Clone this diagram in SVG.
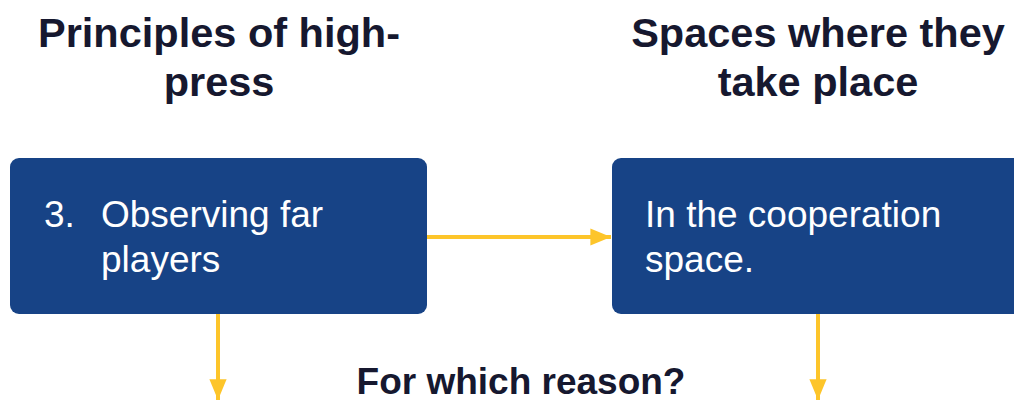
<svg xmlns="http://www.w3.org/2000/svg" width="1014" height="400" viewBox="0 0 1014 400">
<style>
.title{font-family:"Liberation Sans",Arial,sans-serif;font-weight:bold;font-size:41.5px;fill:#16182f;text-anchor:middle}
.box{fill:#174386}
.lbl{font-family:"Liberation Sans",Arial,sans-serif;font-size:37px;fill:#ffffff}
.conn{stroke:#fdc52a;stroke-width:4;fill:none}
</style>
<defs>
<marker id="ah" viewBox="0 0 12 10" refX="12" refY="5" markerWidth="5.2" markerHeight="4.3" markerUnits="strokeWidth" orient="auto">
<path d="M0,0 L12,5 L0,10 Z" fill="#fdc52a"/>
</marker>
</defs>
<rect width="1014" height="400" fill="#ffffff"/>
<text class="title" x="219" y="47">Principles of high-</text>
<text class="title" x="219" y="96">press</text>
<text class="title" x="818" y="47">Spaces where they</text>
<text class="title" x="818" y="96">take place</text>
<g id="connectors">
<line class="conn" x1="427" y1="237" x2="611" y2="237" marker-end="url(#ah)"/>
<line class="conn" x1="218" y1="314" x2="218" y2="400" marker-end="url(#ah)"/>
<line class="conn" x1="818" y1="314" x2="818" y2="400" marker-end="url(#ah)"/>
</g>
<g id="node-principle">
<rect class="box" x="10" y="158" width="417" height="156" rx="9"/>
<text class="lbl" x="44" y="227">3.</text>
<text class="lbl" x="101" y="227">Observing far</text>
<text class="lbl" x="101" y="272">players</text>
</g>
<g id="node-space">
<rect class="box" x="612" y="158" width="420" height="156" rx="9"/>
<text class="lbl" x="645" y="227">In the cooperation</text>
<text class="lbl" x="645" y="272">space.</text>
</g>
<text class="title" x="521" y="394" style="font-size:37px">For which reason?</text>
</svg>
